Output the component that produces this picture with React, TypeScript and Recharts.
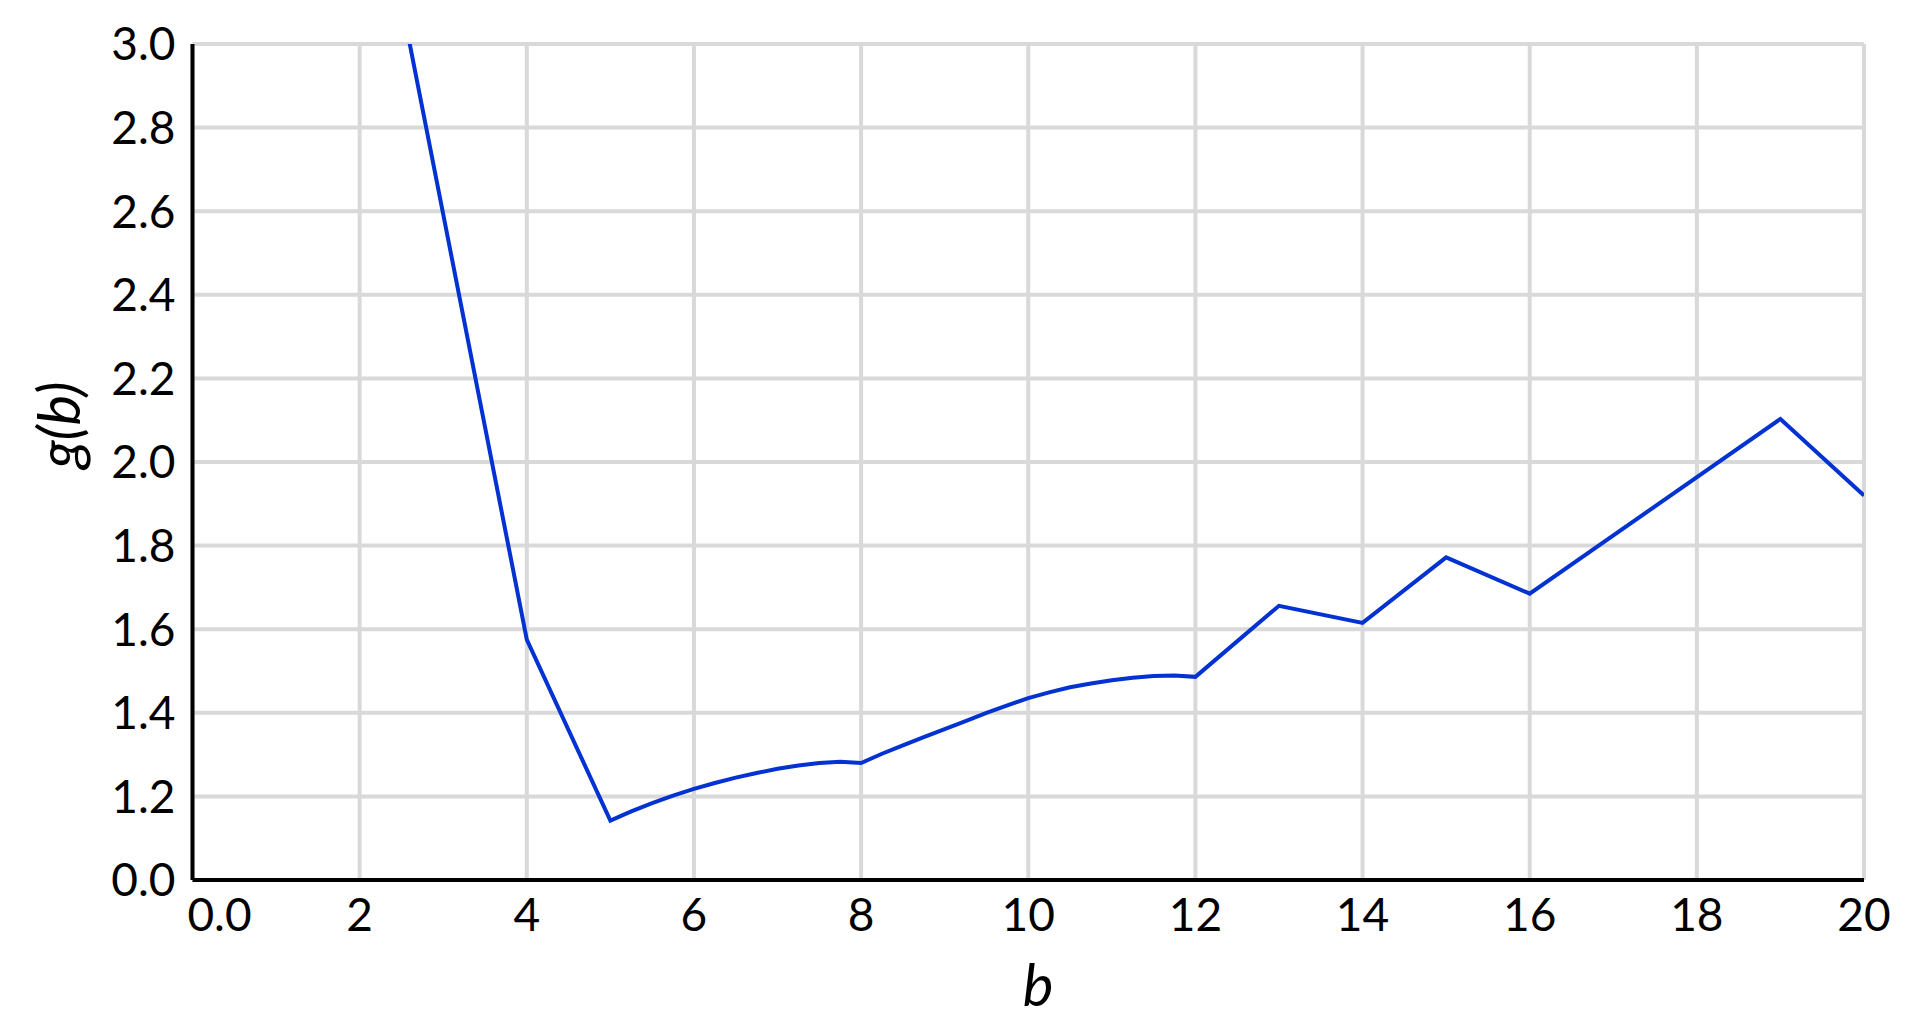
import { LineChart, Line, XAxis, YAxis, CartesianGrid } from 'recharts'

// b values (x) and g(b)
const bValues = [
  2, 4, 5, 5.25, 5.5, 5.75, 6, 6.25, 6.5, 6.75, 7, 7.25, 7.5, 7.75, 8,
  8.25, 8.5, 8.75, 9, 9.25, 9.5, 9.75, 10, 10.25, 10.5, 10.75, 11, 11.25, 11.5, 11.75, 12,
  13, 14, 15, 16, 19, 20,
]
const gValues = [
  3.61, 1.575, 1.142, 1.164, 1.184, 1.202, 1.218, 1.232, 1.245, 1.256, 1.266, 1.274, 1.28, 1.283, 1.28,
  1.302, 1.322, 1.342, 1.361, 1.38, 1.4, 1.418, 1.435, 1.449, 1.461, 1.47, 1.478, 1.484, 1.488, 1.489, 1.486,
  1.656, 1.615, 1.772, 1.685, 2.103, 1.92,
]

const xTicks = [0, 2, 4, 6, 8, 10, 12, 14, 16, 18, 20]
// the axis is broken: the bottom tick (plotted at 1.0) carries the label 0.0
const yTicks = [1.0, 1.2, 1.4, 1.6, 1.8, 2.0, 2.2, 2.4, 2.6, 2.8, 3.0]

const data = bValues.map((b, i) => ({ b, g: gValues[i] }))

const FONT = 'Lato, "Open Sans", sans-serif'

function XTick(props: any) {
  const { x, y, payload } = props
  const v = payload.value
  const label = v === 0 ? '0.0' : String(v)
  return (
    <text x={v === 0 ? x + 27 : x} y={y} dy="0.71em" textAnchor="middle" fontSize={46} fontFamily={FONT} fill="#000">
      {label}
    </text>
  )
}

function YTick(props: any) {
  const { x, y, payload } = props
  const v = payload.value
  const label = Math.abs(v - 1) < 1e-9 ? '0.0' : v.toFixed(1)
  return (
    <text x={x} y={y} dy="0.355em" textAnchor="end" fontSize={46} fontFamily={FONT} fill="#000">
      {label}
    </text>
  )
}

function YTitle() {
  return (
    <text x={72} y={417} transform="rotate(-90 72 417)" textAnchor="middle" fontSize={58} fontStyle="italic" fontFamily={FONT} fill="#000">
      g(b)
    </text>
  )
}

function XTitle() {
  return (
    <text x={1030} y={998} textAnchor="middle" fontSize={58} fontStyle="italic" fontFamily={FONT} fill="#000">
      b
    </text>
  )
}

export default function App() {
  return (
    <div style={{ width: 1900, height: 1012 }}>
      <LineChart width={1900} height={1012} data={data} margin={{ top: 36, right: 44, bottom: 0, left: 0 }}>
        <CartesianGrid stroke="#d9d9d9" strokeWidth={4} />
        <XAxis
          dataKey="b"
          type="number"
          domain={[0, 20]}
          ticks={xTicks}
          allowDataOverflow
          height={140}
          tickLine={false}
          tickSize={0}
          tickMargin={18}
          tick={<XTick />}
          axisLine={{ stroke: '#000', strokeWidth: 4 }}
          label={<XTitle />}
        />
        <YAxis
          type="number"
          domain={[1, 3]}
          ticks={yTicks}
          allowDataOverflow
          width={184.5}
          tickLine={false}
          tickSize={0}
          tickMargin={17}
          tick={<YTick />}
          axisLine={{ stroke: '#000', strokeWidth: 4 }}
          label={<YTitle />}
        />
        <Line
          type="linear"
          dataKey="g"
          stroke="#0232d2"
          strokeWidth={4}
          dot={false}
          activeDot={false}
          isAnimationActive={false}
        />
      </LineChart>
    </div>
  )
}
